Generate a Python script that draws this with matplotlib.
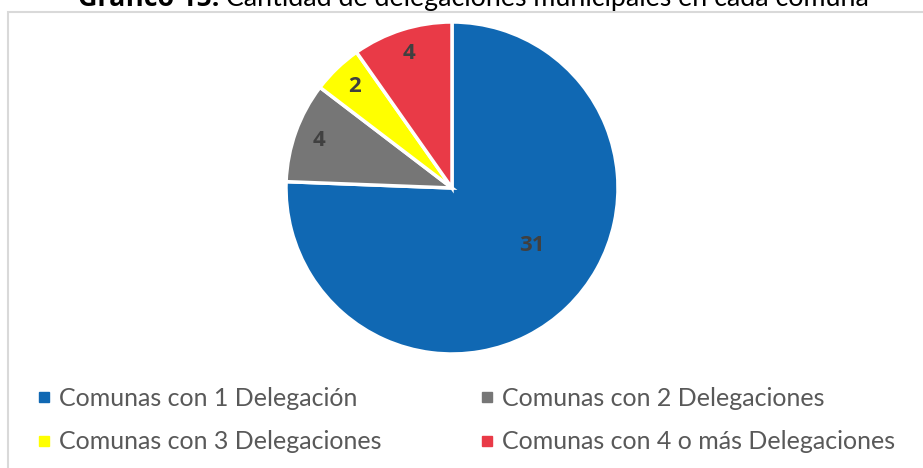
import matplotlib.pyplot as plt
from matplotlib.patches import Rectangle
from matplotlib.lines import Line2D

plt.rcParams['font.family'] = ['Lato', 'DejaVu Sans']

# data
categorias = ['Comunas con 1 Delegación', 'Comunas con 2 Delegaciones',
              'Comunas con 3 Delegaciones', 'Comunas con 4 o más Delegaciones']
cantidades = [31, 4, 2, 4]
colores = ['#1068B3', '#767676', '#FFFF00', '#E93A47']
titulo_bold = 'Gráfico 15:'
titulo_resto = ' Cantidad de delegaciones municipales en cada comuna'

W, H = 923, 468
fig = plt.figure(figsize=(W / 100, H / 100), dpi=100)
renderer = fig.canvas.get_renderer()

# chart area border (cropped at right/bottom)
fig.patches.append(Rectangle((8 / W, -0.1), 1.2, (H - 12) / H + 0.1,
                             transform=fig.transFigure, fill=False,
                             edgecolor='#D9D9D9', linewidth=1.5))

# title: bold part + regular part, fitted to ref width (78..870 px)
fs = 19
t1 = fig.text(78 / W, 1 - 6 / H, titulo_bold, ha='left', va='baseline',
              fontsize=fs, fontweight='bold', family=['Open Sans', 'DejaVu Sans'],
              color='black')
t2 = fig.text(0, 1 - 6 / H, titulo_resto, ha='left', va='baseline',
              fontsize=fs, color='black')
w1 = t1.get_window_extent(renderer).width
w2 = t2.get_window_extent(renderer).width
fs = fs * 792 / (w1 + w2)
t1.set_fontsize(fs)
t2.set_fontsize(fs)
w1 = t1.get_window_extent(renderer).width
t2.set_x((78 + w1) / W)

cx, cy, r = 452, 188, 166
ax = fig.add_axes([(cx - r) / W, (H - cy - r) / H, 2 * r / W, 2 * r / H])
total = sum(cantidades)
wedges, texts, autotexts = ax.pie(
    cantidades, colors=colores, startangle=90, counterclock=False,
    autopct=lambda p: f'{round(p * total / 100)}', pctdistance=0.85,
    wedgeprops=dict(edgecolor='white', linewidth=2.5),
    textprops=dict(fontsize=16, fontweight='bold', color='#404040',
                   family=['Open Sans', 'DejaVu Sans']))
# big slice label sits closer to the centre
x, y = autotexts[0].get_position()
autotexts[0].set_position((x * 0.62 / 0.85 + 0.05, y * 0.62 / 0.85 + 0.10))
ax.set_xlim(-1, 1)
ax.set_ylim(-1, 1)
ax.set_aspect('equal')
ax.axis('off')

orden = [0, 2, 1, 3]  # legend fills by column; keep reading order by row
handles = [Line2D([], [], marker='s', linestyle='', color=colores[i], markersize=7)
           for i in orden]
fig.legend(handles, [categorias[i] for i in orden], loc='upper left', ncol=2,
           bbox_to_anchor=(15 / W, 1 - 364 / H), frameon=False,
           fontsize=18, labelcolor='#595959', handlelength=0.5,
           handletextpad=0.35, columnspacing=3.96, labelspacing=0.83)

plt.savefig('out.png', dpi=100)
